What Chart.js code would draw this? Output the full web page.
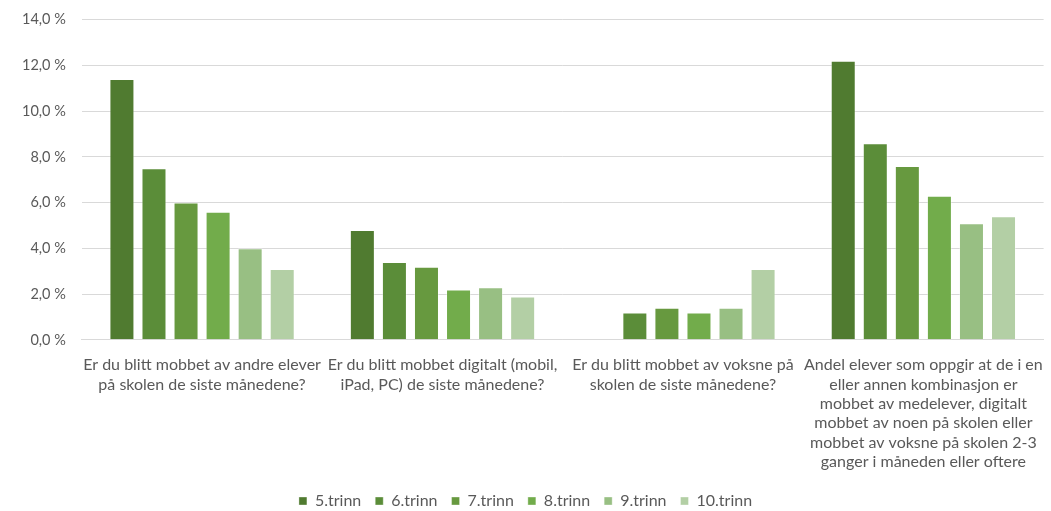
<!DOCTYPE html>
<html>
<head>
<meta charset="utf-8">
<script src="https://cdn.jsdelivr.net/npm/chart.js@4/dist/chart.umd.min.js"></script>
<style>
  html, body { margin: 0; padding: 0; background: #fff; }
  #wrap { width: 1051px; height: 511px; }
</style>
</head>
<body>
<div id="wrap"><canvas id="chart"></canvas></div>
<script>
// category labels (wrapped like the original)
const categories = [
  ['Er du blitt mobbet av andre elever', 'på skolen de siste månedene?'],
  ['Er du blitt mobbet digitalt (mobil,', 'iPad, PC) de siste månedene?'],
  ['Er du blitt mobbet av voksne på', 'skolen de siste månedene?'],
  ['Andel elever som oppgir at de i en', 'eller annen kombinasjon er', 'mobbet av medelever, digitalt', 'mobbet av noen på skolen eller', 'mobbet av voksne på skolen 2-3', 'ganger i måneden eller oftere']
];

const seriesNames = ['5.trinn', '6.trinn', '7.trinn', '8.trinn', '9.trinn', '10.trinn'];
const trinn5 = [11.4, 4.8, null, 12.2];
const trinn6 = [7.5, 3.4, 1.2, 8.6];
const trinn7 = [6.0, 3.2, 1.4, 7.6];
const trinn8 = [5.6, 2.2, 1.2, 6.3];
const trinn9 = [4.0, 2.3, 1.4, 5.1];
const trinn10 = [3.1, 1.9, 3.1, 5.4];
const colors = ['#507b30', '#5b8d39', '#67993f', '#72ac4b', '#98bf83', '#b3cfa5'];

const yTicks = [0, 2, 4, 6, 8, 10, 12, 14];

const allSeries = [trinn5, trinn6, trinn7, trinn8, trinn9, trinn10];

new Chart(document.getElementById('chart').getContext('2d'), {
  type: 'bar',
  data: {
    labels: categories,
    datasets: allSeries.map((d, i) => ({
      label: seriesNames[i],
      data: d,
      backgroundColor: colors[i],
      borderColor: 'rgba(255,255,255,0.35)',
      borderWidth: 1,
      categoryPercentage: 0.8,
      barPercentage: 0.78
    }))
  },
  options: {
    responsive: true, maintainAspectRatio: false, animation: false,
    layout: { padding: { top: 8, right: 6, left: 6, bottom: -8 } },
    scales: {
      x: {
        grid: { display: false },
        border: { color: '#d9d9d9' },
        ticks: {
          color: '#595959', maxRotation: 0, autoSkip: false,
          font: { family: 'Lato', size: 16, lineHeight: 1.21 }, padding: 7.5
        }
      },
      y: {
        min: 0, max: 14,
        afterBuildTicks: ax => { ax.ticks = yTicks.map(v => ({ value: v })); },
        grid: { color: '#d9d9d9', drawTicks: false },
        border: { display: false },
        ticks: {
          color: '#595959', padding: 16,
          font: { family: 'Lato', size: 14.5, lineHeight: 0.5 },
          callback: v => v.toFixed(1).replace('.', ',') + ' %'
        }
      }
    },
    plugins: {
      legend: {
        position: 'bottom',
        labels: {
          color: '#595959', boxWidth: 8, boxHeight: 8, padding: 14,
          font: { family: 'Lato', size: 16, lineHeight: 1.2 }
        }
      },
      tooltip: { enabled: false }
    }
  }
});
</script>
</body>
</html>
